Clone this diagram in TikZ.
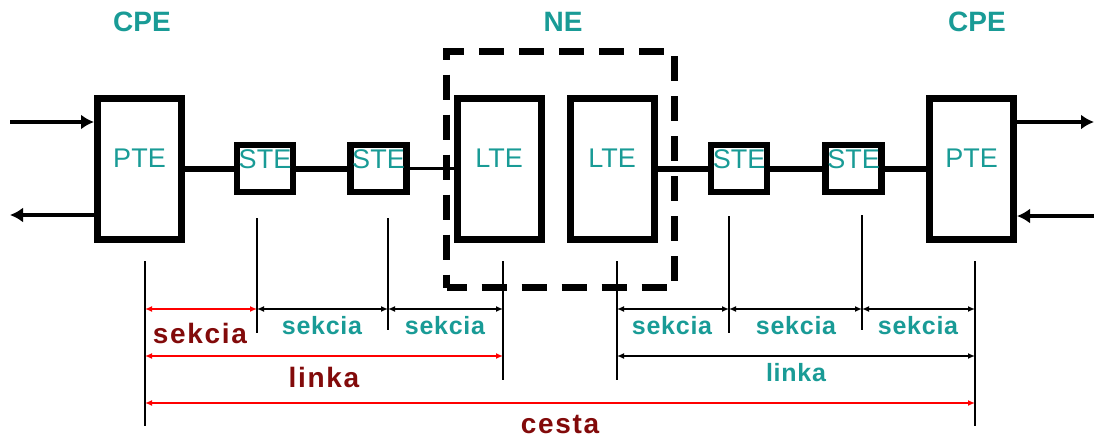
\documentclass[tikz,border=0pt]{standalone}
\usepackage{fontspec}
\setmainfont{Liberation Sans}
\newfontfamily\tealfont[LetterSpace=3]{Liberation Sans}
\newfontfamily\redfont[LetterSpace=6]{Liberation Sans}
\usetikzlibrary{arrows.meta, positioning}
\definecolor{tealtxt}{RGB}{25,155,150}
\definecolor{darkred}{RGB}{130,10,10}
\tikzstyle{block}=[draw,rectangle,line width=7pt,inner sep=0pt]
\tikzstyle{tallblock}=[block,minimum width=84pt,minimum height=141pt]
\tikzstyle{steblock}=[block,line width=6.5pt,minimum width=56pt,minimum height=47pt]
\tikzstyle{boxtext}=[text=tealtxt,inner sep=0pt,font=\fontsize{27}{27}\selectfont]
\tikzstyle{head}=[text=tealtxt,inner sep=0pt,font=\fontsize{28}{28}\selectfont\bfseries]
\tikzstyle{tick}=[line width=2.5pt]
\tikzstyle{dim}=[line width=1.8pt,{Latex[length=7pt,width=6pt]}-{Latex[length=7pt,width=6pt]}]
\tikzstyle{reddim}=[dim,red]
\tikzstyle{seklbl}=[text=tealtxt,inner sep=0pt,font=\tealfont\fontsize{25}{25}\selectfont\bfseries]
\tikzstyle{redlbl}=[text=darkred,inner sep=0pt,font=\redfont\fontsize{28}{28}\selectfont\bfseries]
\tikzstyle{wire}=[line width=6pt]
\tikzstyle{io}=[line width=4pt,-{Latex[length=13pt,width=15pt]}]

\begin{document}
\begin{tikzpicture}[x=1pt,y=-1pt]
  \useasboundingbox (0,0) rectangle (1094,439);
  % headings
  \node[head] (cpeL) at (142,22) {CPE};
  \node[head] (ne) at (563,22) {NE};
  \node[head] (cpeR) at (977,22) {CPE};
  % equipment
  \node[tallblock] (pteL) at (139.5,168.5) {};
  \node[steblock] (ste1) at (265,168.5) {};
  \node[steblock] (ste2) at (378.5,168.5) {};
  \node[tallblock] (lte1) at (499,168.5) {};
  \node[tallblock] (lte2) at (612,168.5) {};
  \node[steblock] (ste3) at (739,168.5) {};
  \node[steblock] (ste4) at (853.5,168.5) {};
  \node[tallblock] (pteR) at (971.5,168.5) {};
  \node[draw,line width=7pt,dash pattern=on 25pt off 15pt,dash phase=5pt,minimum width=228pt,minimum height=236pt] (nebox) at (560.5,169.5) {};
  \node[boxtext] (pteLtxt) at ([yshift=10.5pt]pteL.center) {PTE};
  \node[boxtext] (ste1txt) at ([yshift=9pt]ste1.center) {STE};
  \node[boxtext] (ste2txt) at ([yshift=9pt]ste2.center) {STE};
  \node[boxtext] (lte1txt) at ([yshift=10.5pt]lte1.center) {LTE};
  \node[boxtext] (lte2txt) at ([yshift=10.5pt]lte2.center) {LTE};
  \node[boxtext] (ste3txt) at ([yshift=9pt]ste3.center) {STE};
  \node[boxtext] (ste4txt) at ([yshift=9pt]ste4.center) {STE};
  \node[boxtext] (pteRtxt) at ([yshift=10.5pt]pteR.center) {PTE};
  % line
  \draw[wire] (pteL) -- (ste1);
  \draw[wire] (ste1) -- (ste2);
  \draw[line width=3pt] (ste2) -- (lte1);
  \draw[wire] (lte2) -- (ste3);
  \draw[wire] (ste3) -- (ste4);
  \draw[wire] (ste4) -- (pteR);
  % inputs and outputs
  \coordinate (inL) at (10,122);
  \coordinate (outL) at (10,215);
  \coordinate (outR) at (1094,122);
  \coordinate (inR) at (1094,216);
  \draw[io] (inL) -- (inL -| pteL.west);
  \draw[io] (outL -| pteL.west) -- (outL);
  \draw[io] (outR -| pteR.east) -- (outR);
  \draw[io] (inR) -- (inR -| pteR.east);
  % ticks
  \foreach \n/\x/\t/\b in {a/145/261/426, b/257/218/333, c/388/218/330, d/503/261/380,
                          e/617/261/380, f/729/216/333, g/862/215/330, h/975/261/426} {
    \coordinate (t\n) at (\x,\t);
    \coordinate (b\n) at (\x,\b);
    \draw[tick] (t\n) -- (b\n);
  }
  \coordinate (row1) at (0,309);
  \coordinate (row2) at (0,356);
  \coordinate (row3) at (0,403);
  % sections
  \draw[reddim] (ta |- row1) -- (tb |- row1);
  \draw[dim] (tb |- row1) -- (tc |- row1);
  \draw[dim] (tc |- row1) -- (td |- row1);
  \draw[dim] (te |- row1) -- (tf |- row1);
  \draw[dim] (tf |- row1) -- (tg |- row1);
  \draw[dim] (tg |- row1) -- (th |- row1);
  % links and path
  \draw[reddim,line width=2.2pt] (ta |- row2) -- (td |- row2);
  \draw[dim] (te |- row2) -- (th |- row2);
  \draw[reddim,line width=2.8pt] (ta |- row3) -- (th |- row3);
  % labels
  \node[redlbl] (sekRed) at (200,333) {sekcia};
  \foreach \x/\n in {322/1, 445/2, 672/3, 796/4, 918/5}
    \node[seklbl] (sek\n) at (\x,326) {sekcia};
  \node[redlbl] (linkRed) at (324,377) {linka};
  \node[seklbl] (linkTeal) at (796,373) {linka};
  \node[redlbl] (cesta) at (560,424) {cesta};
\end{tikzpicture}
\end{document}
